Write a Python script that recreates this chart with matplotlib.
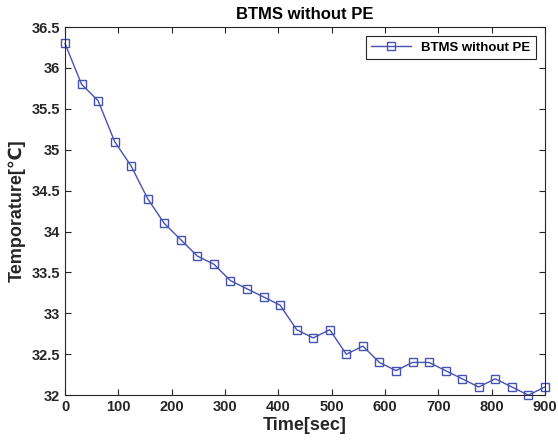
import numpy as np
import matplotlib
matplotlib.use("Agg")
import matplotlib.pyplot as plt

plt.rcParams['font.family'] = ['Liberation Sans', 'DejaVu Sans']

time_sec = np.linspace(0, 900, 30)
temperature = [36.3, 35.8, 35.6, 35.1, 34.8, 34.4, 34.1, 33.9, 33.7, 33.6,
               33.4, 33.3, 33.2, 33.1, 32.8, 32.7, 32.8, 32.5, 32.6, 32.4,
               32.3, 32.4, 32.4, 32.3, 32.2, 32.1, 32.2, 32.1, 32.0, 32.1]
xticks = [0, 100, 200, 300, 400, 500, 600, 700, 800, 900]
yticks = [32, 32.5, 33, 33.5, 34, 34.5, 35, 35.5, 36, 36.5]
ytick_labels = ['32', '32.5', '33', '33.5', '34', '34.5', '35', '35.5', '36', '36.5']

fig = plt.figure(figsize=(5.58, 4.44), dpi=100)
ax = fig.add_axes([0.1165, 0.110, 0.860, 0.829])
color = '#4652b4'
ax.plot(time_sec, temperature, '-s', color=color, lw=1.0, ms=6,
        mfc='none', mec=color, mew=1.0, label='BTMS without PE', clip_on=False)
ax.set_xlim(0, 900)
ax.set_ylim(32, 36.5)
ax.set_xticks(xticks)
ax.set_yticks(yticks)
ax.set_yticklabels(ytick_labels)
ax.tick_params(direction='in', top=True, right=True, length=4, width=0.8,
               colors='#262626', labelsize=10.5)
for lab in ax.get_xticklabels() + ax.get_yticklabels():
    lab.set_fontweight('bold')
for s in ax.spines.values():
    s.set_color('#262626')
    s.set_linewidth(0.8)
ax.set_xlabel('Time[sec]', fontsize=13, fontweight='bold', color='#262626', labelpad=2)
ax.set_ylabel('Temporature[℃]', fontsize=13, fontweight='bold', color='#262626', labelpad=4,
              family=['Liberation Sans', 'DejaVu Sans'])
ax.set_title('BTMS without PE', fontsize=12, fontweight='bold', color='black', pad=6)
leg = ax.legend(loc='upper right', fancybox=False, edgecolor='#262626',
                prop={'weight': 'bold', 'size': 9.5}, handlelength=3,
                borderaxespad=0.7, framealpha=1)
leg.get_frame().set_linewidth(0.8)
fig.savefig('out.png', dpi=100)
